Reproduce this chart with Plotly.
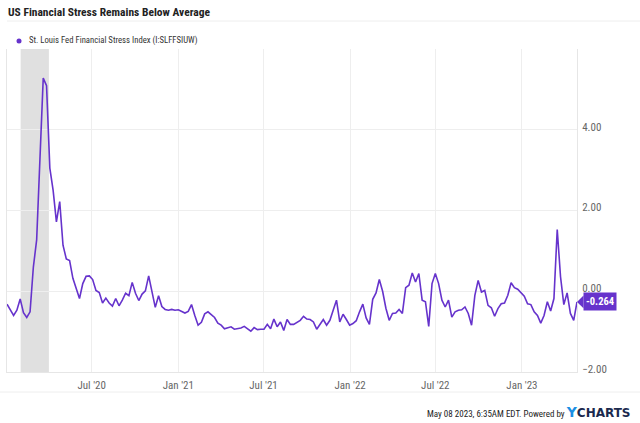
import plotly.graph_objects as go
import pandas as pd

# weekly readings, Friday week-ending dates
start_date = "2020-01-03"
stress_index = [
    -0.32, -0.47, -0.60, -0.47, -0.19, -0.53, -0.65, -0.51, 0.60, 1.27,
    3.30, 5.28, 5.09, 3.05, 2.50, 1.72, 2.22, 1.14, 0.80, 0.76,
    0.32, 0.07, -0.18, 0.19, 0.37, 0.38, 0.29, 0.02, -0.03, -0.29,
    -0.17, -0.29, -0.37, -0.18, -0.36, -0.22, -0.05, -0.11, 0.22, -0.05,
    -0.23, -0.07, 0.01, 0.38, -0.02, -0.40, -0.11, -0.38, -0.45, -0.47,
    -0.45, -0.47, -0.46, -0.50, -0.54, -0.50, -0.33, -0.60, -0.84, -0.77,
    -0.56, -0.51, -0.58, -0.65, -0.79, -0.84, -0.93, -0.91, -0.88, -0.94,
    -0.93, -0.91, -0.87, -0.94, -0.99, -0.90, -0.95, -0.94, -0.94, -0.82,
    -0.93, -0.69, -0.88, -0.76, -0.97, -0.70, -0.82, -0.82, -0.76, -0.72,
    -0.62, -0.69, -0.70, -0.76, -0.94, -0.82, -0.70, -0.84, -0.72, -0.47,
    -0.22, -0.76, -0.57, -0.70, -0.84, -0.80, -0.73, -0.51, -0.32, -0.66,
    -0.82, -0.20, -0.04, 0.29, 0.00, -0.42, -0.72, -0.55, -0.54, -0.45,
    -0.55, 0.09, 0.15, 0.45, 0.23, 0.44, -0.22, -0.26, -0.87, 0.19,
    0.44, 0.19, -0.22, -0.39, -0.22, -0.64, -0.51, -0.47, -0.46, -0.39,
    -0.55, -0.84, -0.10, 0.27, -0.02, 0.02, -0.35, -0.41, -0.62, -0.43,
    -0.31, -0.29, -0.10, 0.21, 0.09, 0.05, -0.04, -0.12, -0.31, -0.33,
    -0.51, -0.60, -0.79, -0.60, -0.26, -0.49, -0.18, 1.53, 0.36, -0.33,
    -0.04, -0.55, -0.72, -0.264,
]
dates = pd.date_range(start_date, periods=len(stress_index), freq="7D")

recession = ("2020-02-01", "2020-04-01")
tick_dates = ["2020-07-01", "2021-01-01", "2021-07-01", "2022-01-01", "2022-07-01", "2023-01-01"]
tick_labels = ["Jul '20", "Jan '21", "Jul '21", "Jan '22", "Jul '22", "Jan '23"]
y_ticks = [-2, 0, 2, 4]

purple = "#6633cc"
font = "Roboto Condensed, Liberation Sans Narrow, DejaVu Sans Condensed, Roboto, sans-serif"

# plot box in pixels: 7..577 x 49..372
W, H = 570, 323
def px(x):
    return (x - 7) / W
def py(y):
    return (372 - y) / H

fig = go.Figure()
fig.add_trace(go.Scatter(x=dates, y=stress_index, mode="lines",
                         line=dict(color=purple, width=1.6), showlegend=False,
                         hoverinfo="x+y"))

fig.add_vrect(x0=recession[0], x1=recession[1], fillcolor="#e0e0e0", opacity=1,
              line_width=0, layer="below")

# title, legend and footer
fig.add_annotation(text="<b>US Financial Stress Remains Below Average</b>", xref="paper", yref="paper",
                   x=px(6), y=py(12), xanchor="left", yanchor="middle", showarrow=False,
                   font=dict(size=11.5, color="#222222", family=font))
fig.add_shape(type="line", xref="paper", yref="paper", x0=px(7), x1=px(640), y0=py(21), y1=py(21),
              line=dict(color="#eeeeee", width=1))
fig.add_shape(type="circle", xref="paper", yref="paper", xsizemode="pixel", ysizemode="pixel",
              xanchor=px(19), yanchor=py(41), x0=-2.5, x1=2.5, y0=-2.5, y1=2.5,
              fillcolor=purple, line_width=0)
fig.add_annotation(text="St. Louis Fed Financial Stress Index (I:SLFFSIUW)", xref="paper", yref="paper",
                   x=px(27), y=py(41), xanchor="left", yanchor="middle", showarrow=False,
                   font=dict(size=8.7, color="#333333", family=font))
fig.add_shape(type="line", xref="paper", yref="paper", x0=px(0), x1=px(640), y0=py(392), y1=py(392),
              line=dict(color="#eeeeee", width=1))
fig.add_annotation(text="May 08 2023, 6:35AM EDT. Powered by "
                        "<b><span style='color:#1a8fe3;font-size:14px;font-family:DejaVu Sans'>Y</span>"
                        "<span style='color:#1b2a4e;font-size:12px;font-family:DejaVu Sans'>CHARTS</span></b>",
                   xref="paper", yref="paper", x=px(633), y=py(412), xanchor="right", yanchor="middle",
                   showarrow=False, font=dict(size=9, color="#222222", family=font))

# last value tag
last = stress_index[-1]
fig.add_annotation(text=f"<b>{last:.3f}</b>", xref="paper", yref="y", x=px(583), y=last,
                   xanchor="left", yanchor="middle", showarrow=False, bgcolor=purple,
                   borderpad=2, font=dict(size=10.5, color="white", family=font))
fig.add_shape(type="path", xref="paper", yref="y",
              path=f"M {px(577)} {last} L {px(583.5)} {last + 0.16} L {px(583.5)} {last - 0.16} Z",
              fillcolor=purple, line_width=0)

fig.update_layout(
    width=640, height=423,
    margin=dict(l=7, r=63, t=49, b=51),
    plot_bgcolor="white", paper_bgcolor="white",
    font=dict(family=font, color="#666666", size=11),
    xaxis=dict(range=[dates[0], dates[-1]], tickvals=tick_dates, ticktext=tick_labels,
               showgrid=True, gridcolor="#eeeeee", gridwidth=1, zeroline=False,
               showline=True, linecolor="#e6e6e6", ticks="outside", ticklen=3, tickcolor="white"),
    yaxis=dict(range=[-2, 6], tickvals=y_ticks, tickformat=".2f", side="right",
               showgrid=True, gridcolor="#eeeeee", gridwidth=1, zeroline=False,
               showline=True, mirror=True, linecolor="#e6e6e6",
               ticks="outside", ticklen=2, tickcolor="white", ticklabelshift=-3),
)

fig.write_html("out.html", config={"displayModeBar": False},
               post_script="document.body.style.margin='0';")
